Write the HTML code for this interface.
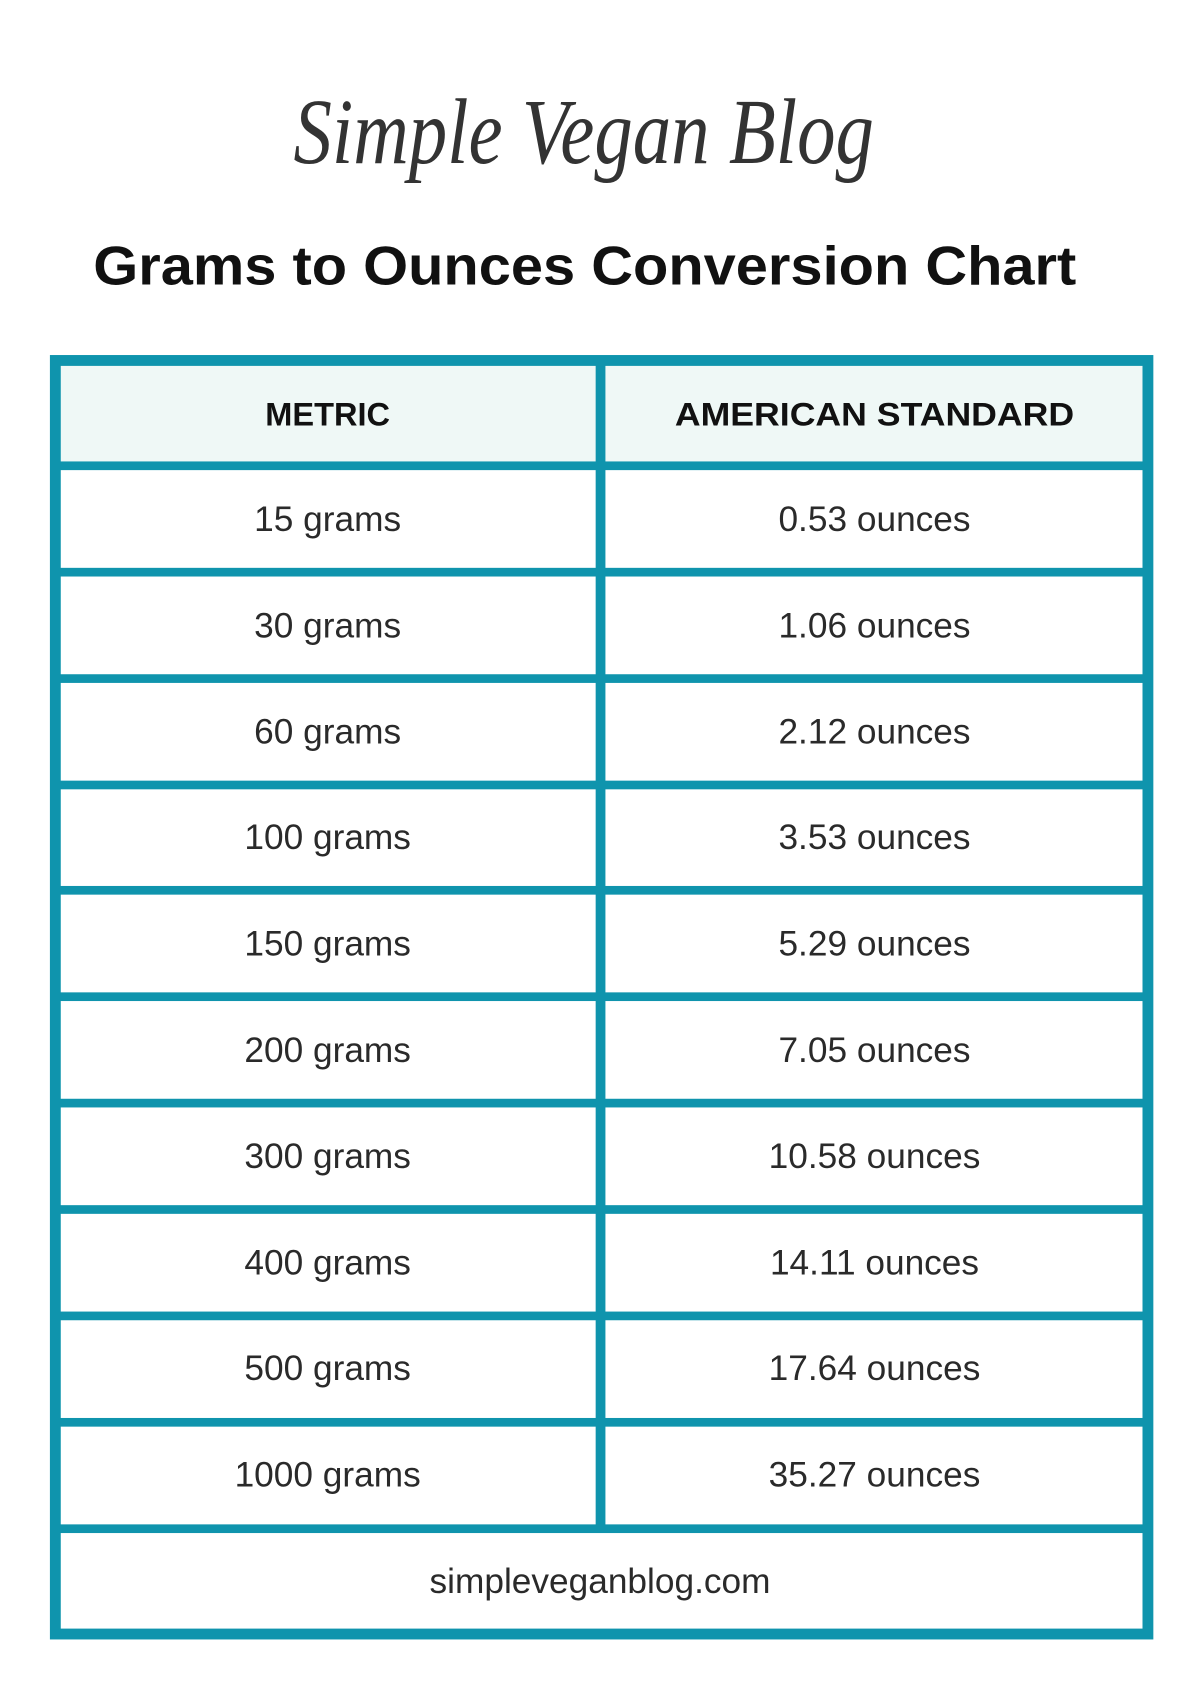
<!DOCTYPE html>
<html><head><meta charset="utf-8">
<style>
html,body{margin:0;padding:0;background:#fff;}
body{width:1200px;height:1697px;overflow:hidden;}
svg{display:block;}
</style></head>
<body>
<svg width="1200" height="1697" viewBox="0 0 1106 1563" preserveAspectRatio="none" xmlns="http://www.w3.org/2000/svg">
<rect width="1106" height="1563" fill="#fff"/>
<text x="538" y="150" text-anchor="middle" font-family="Liberation Serif, serif" font-style="italic" font-size="86" fill="#333" textLength="535" lengthAdjust="spacingAndGlyphs">Simple Vegan Blog</text>
<text x="539" y="262" text-anchor="middle" font-family="Liberation Sans, sans-serif" font-weight="bold" font-size="50" fill="#111" textLength="906" lengthAdjust="spacingAndGlyphs">Grams to Ounces Conversion Chart</text>
<rect x="46" y="327" width="1017" height="1183" fill="#0f94ad"/>
<rect x="56" y="337" width="493" height="88" fill="#eff8f6"/>
<rect x="558" y="337" width="495" height="88" fill="#eff8f6"/>
<g font-family="Liberation Sans, sans-serif" font-weight="bold" font-size="30" fill="#111" text-anchor="middle">
<text x="302" y="392">METRIC</text>
<text x="806" y="392" textLength="368" lengthAdjust="spacingAndGlyphs">AMERICAN STANDARD</text>
</g>
<g fill="#fff">
<rect x="56" y="433" width="493" height="90"/><rect x="558" y="433" width="495" height="90"/>
<rect x="56" y="531" width="493" height="90"/><rect x="558" y="531" width="495" height="90"/>
<rect x="56" y="629" width="493" height="90"/><rect x="558" y="629" width="495" height="90"/>
<rect x="56" y="727" width="493" height="89"/><rect x="558" y="727" width="495" height="89"/>
<rect x="56" y="824" width="493" height="90"/><rect x="558" y="824" width="495" height="90"/>
<rect x="56" y="922" width="493" height="90"/><rect x="558" y="922" width="495" height="90"/>
<rect x="56" y="1020" width="493" height="90"/><rect x="558" y="1020" width="495" height="90"/>
<rect x="56" y="1118" width="493" height="90"/><rect x="558" y="1118" width="495" height="90"/>
<rect x="56" y="1216" width="493" height="90"/><rect x="558" y="1216" width="495" height="90"/>
<rect x="56" y="1314" width="493" height="90"/><rect x="558" y="1314" width="495" height="90"/>
<rect x="56" y="1412" width="997" height="88"/>
</g>
<g font-family="Liberation Sans, sans-serif" font-size="32.5" fill="#2a2a2a" text-anchor="middle">
<text x="302" y="489">15 grams</text><text x="806" y="489">0.53 ounces</text>
<text x="302" y="587">30 grams</text><text x="806" y="587">1.06 ounces</text>
<text x="302" y="685">60 grams</text><text x="806" y="685">2.12 ounces</text>
<text x="302" y="782">100 grams</text><text x="806" y="782">3.53 ounces</text>
<text x="302" y="880">150 grams</text><text x="806" y="880">5.29 ounces</text>
<text x="302" y="978">200 grams</text><text x="806" y="978">7.05 ounces</text>
<text x="302" y="1076">300 grams</text><text x="806" y="1076">10.58 ounces</text>
<text x="302" y="1174">400 grams</text><text x="806" y="1174">14.11 ounces</text>
<text x="302" y="1271">500 grams</text><text x="806" y="1271">17.64 ounces</text>
<text x="302" y="1369">1000 grams</text><text x="806" y="1369">35.27 ounces</text>
<text x="553" y="1467">simpleveganblog.com</text>
</g>
</svg>
</body></html>
